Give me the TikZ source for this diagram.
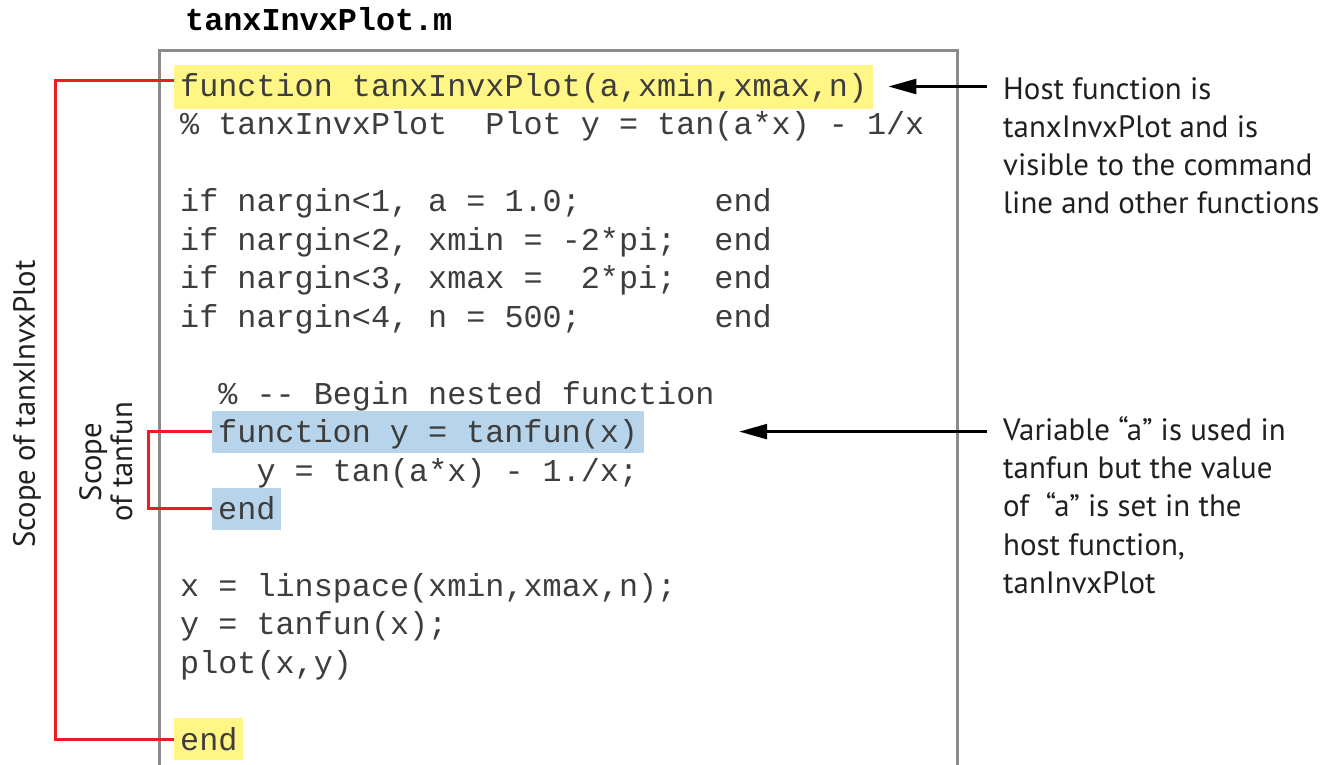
\documentclass[tikz,border=0pt]{standalone}
\usepackage{fontspec}
\setmainfont{PT Sans}
\newfontfamily\codefont{Liberation Mono}
\usetikzlibrary{arrows.meta, positioning, calc}

\definecolor{hlyellow}{HTML}{FFF685}
\definecolor{hlblue}{HTML}{B7D4EA}
\definecolor{scopered}{HTML}{ED1C24}
\definecolor{framegray}{HTML}{8C8C8C}
\definecolor{codegray}{HTML}{3D3D3D}
\definecolor{notegray}{HTML}{231F20}

\tikzset{
    codeline/.style={font=\codefont\fontsize{31.8}{38}\selectfont, text=codegray, inner sep=0pt, anchor=base west},
    hlbox/.style={codeline, inner xsep=6pt, text height=32pt, text depth=10pt},
    notetext/.style={font=\fontsize{30.9}{38.3}\selectfont, text=notegray, align=left, inner sep=0pt, anchor=north west},
    scopelabel/.style={font=\fontsize{30.7}{31}\selectfont, text=notegray, align=center, rotate=90, inner sep=0pt},
    scopeline/.style={draw=scopered, line width=3pt},
    pointer/.style={draw=black, line width=2.5pt, -{Triangle[length=28pt, width=15pt]}},
}

\begin{document}
\begin{tikzpicture}[x=1pt, y=-1pt]
    \useasboundingbox (0,0) rectangle (1325,764);

    % File name and editor frame
    \node[codeline, font=\codefont\bfseries\fontsize{31.8}{38}\selectfont, text=black] (fname) at (185,30) {tanxInvxPlot.m};
    \draw[framegray, line width=3pt] (159,770) |- (957,50) -- (957,770);

    % Highlighted lines (host function and nested function)
    \node[hlbox, fill=hlyellow, text depth=12pt] (hostfn) at (174,96.5) {function tanxInvxPlot(a,xmin,xmax,n)};
    \node[hlbox, fill=hlblue] (nestfn) at (212,442.6) {function y = tanfun(x)};
    \node[hlbox, fill=hlblue] (nestend) at (212,519.5) {end};
    \node[hlbox, fill=hlyellow] (hostend) at (174,750.2) {end};

    % Remaining code lines
    \foreach \n/\txt in {
        2/{\% tanxInvxPlot~~Plot y = tan(a*x) - 1/x},
        4/{if nargin<1, a = 1.0;~~~~~~~end},
        5/{if nargin<2, xmin = -2*pi;~~end},
        6/{if nargin<3, xmax =~~2*pi;~~end},
        7/{if nargin<4, n = 500;~~~~~~~end},
        9/{~~\% -{}- Begin nested function},
        11/{~~~~y = tan(a*x) - 1./x;},
        14/{x = linspace(xmin,xmax,n);},
        15/{y = tanfun(x);},
        16/{plot(x,y)}} {
        \node[codeline] (line\n) at (180, {96.5+(\n-1)*38.45}) {\txt};
    }

    % Scope brackets
    \draw[scopeline] ([yshift=6pt]hostfn.west) -- ++(-119,0) |- (hostend.west);
    \draw[scopeline] (nestfn.west) -- ++(-64,0) |- (nestend.west);
    \node[scopelabel] (hostscope) at (27,404) {Scope of tanxInvxPlot};
    \node[scopelabel] (nestscope) at (106,462) {Scope\\of tanfun};

    % Notes on the right
    \node[notetext] (hostnote) at (1003,77) {Host function is\\tanxInvxPlot and is\\visible to the command\\line and other functions};
    \node[notetext] (nestnote) at (1003,416) {Variable “a” is used in\\tanfun but the value\\of~ “a” is set in the\\host function,\\tanInvxPlot};
    \draw[pointer] ([xshift=-16pt]hostnote.west |- hostfn.east) -- ([xshift=15pt]hostfn.east);
    \draw[pointer] ([xshift=-16pt]nestnote.west |- nestfn.east) -- ([xshift=95pt]nestfn.east);
\end{tikzpicture}
\end{document}
